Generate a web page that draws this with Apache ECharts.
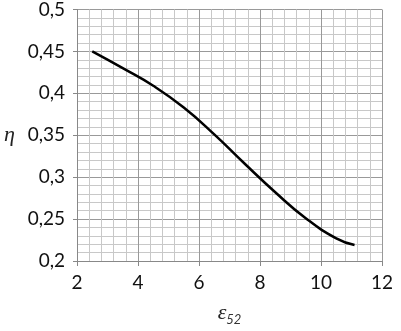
<!DOCTYPE html>
<html>
<head>
<meta charset="utf-8">
<script src="https://cdn.jsdelivr.net/npm/echarts@6/dist/echarts.min.js"></script>
<style>
  html, body { margin: 0; padding: 0; background: #fff; }
  #chart { width: 401px; height: 331px; }
</style>
</head>
<body>
<div id="chart"></div>
<script>
// curve
const epsValues = [2.5, 3.5, 4.5, 5.5, 6.5, 7.5, 8.5, 9.5, 10.5, 11.1];
const etaValues = [0.45, 0.430, 0.409, 0.383, 0.351, 0.316, 0.282, 0.251, 0.227, 0.219];

const fontFamily = 'Lato, "Open Sans", sans-serif';
const comma = (v) => String(+v.toFixed(2)).replace('.', ',');

const chart = echarts.init(document.getElementById('chart'));

const option = {
    animation: false,
    grid: {
        left: 77,
        right: 19,
        top: 6,
        bottom: 63
    },
    xAxis: {
        type: 'value',
        min: 2,
        max: 12,
        interval: 2,
        name: '{e|ε}{s|52}',
        nameLocation: 'middle',
        nameGap: 40,
        nameTextStyle: {
            rich: {
                e: { fontSize: 22, fontStyle: 'italic', fontFamily: 'serif', color: '#222' },
                s: { fontSize: 13, fontStyle: 'italic', color: '#333', fontFamily: fontFamily, padding: [12, 0, 0, 0] }
            }
        },
        axisLine: { show: true, lineStyle: { color: '#888', width: 1 } },
        axisTick: { show: true, length: 5, lineStyle: { color: '#888' } },
        axisLabel: {
            color: '#111',
            fontSize: 19,
            fontFamily: fontFamily,
            margin: 12,
            formatter: comma
        },
        splitLine: { show: true, lineStyle: { color: '#999', width: 1 } },
        minorTick: { show: false, splitNumber: 5 },
        minorSplitLine: { show: true, lineStyle: { color: '#c8c8c8', width: 1 } }
    },
    yAxis: {
        type: 'value',
        min: 0.2,
        max: 0.5,
        interval: 0.05,
        name: 'η',
        nameLocation: 'middle',
        nameGap: 62,
        nameRotate: 0,
        nameTextStyle: { fontSize: 22, fontStyle: 'italic', fontFamily: 'serif', color: '#222' },
        axisLine: { show: true, lineStyle: { color: '#888', width: 1 } },
        axisTick: { show: true, length: 4, lineStyle: { color: '#888' } },
        axisLabel: {
            color: '#111',
            fontSize: 19,
            fontFamily: fontFamily,
            margin: 12,
            formatter: comma
        },
        splitLine: { show: true, lineStyle: { color: '#999', width: 1 } },
        minorTick: { show: false, splitNumber: 5 },
        minorSplitLine: { show: true, lineStyle: { color: '#c8c8c8', width: 1 } }
    },
    series: [
        {
            type: 'line',
            data: epsValues.map((x, i) => [x, etaValues[i]]),
            smooth: 0.5,
            showSymbol: false,
            lineStyle: { color: '#000', width: 2.5 }
        }
    ]
};

chart.setOption(option);
</script>
</body>
</html>
